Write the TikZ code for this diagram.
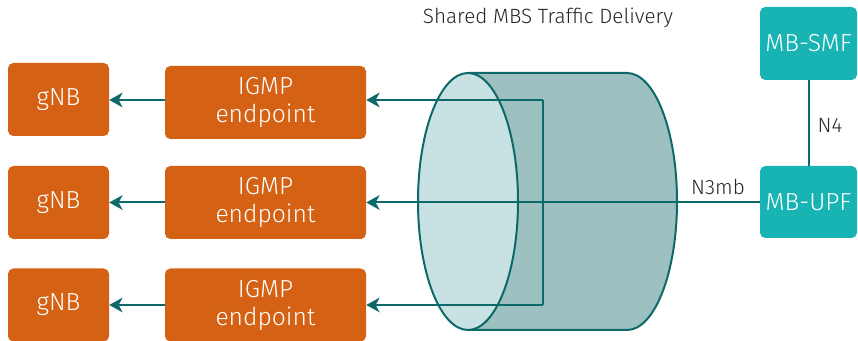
\documentclass[tikz,border=0pt]{standalone}
\usepackage{fontspec}
\setmainfont{Fira Sans}[UprightFont={* Light}]
\usetikzlibrary{arrows.meta}
\definecolor{nodeorange}{RGB}{213,98,20}
\definecolor{nodeteal}{RGB}{24,180,180}
\definecolor{linkteal}{RGB}{14,106,106}
\definecolor{pipebody}{RGB}{157,193,192}
\definecolor{pipefront}{RGB}{200,225,226}
\tikzset{
  box/.style={rounded corners=4pt, inner sep=0pt, align=center, text=white,
    font=\fontsize{18.5}{21}\selectfont, anchor=center},
  ranbox/.style={box, fill=nodeorange},
  corebox/.style={box, fill=nodeteal},
  link/.style={draw=linkteal, line width=1.5pt},
  flow/.style={link, -{Stealth[length=10pt,width=11pt,inset=3pt]}},
  lbl/.style={font=\fontsize{15.5}{18}\selectfont, text=black!85, inner sep=0pt},
}
\begin{document}
\begin{tikzpicture}[x=0.75pt,y=-0.75pt]
\useasboundingbox (0,0) rectangle (858,341);

% title
\node[lbl] (title) at (548,18) {Shared MBS Traffic Delivery};

% radio side
\node[ranbox, minimum width=101*0.75pt, minimum height=73*0.75pt] (gnb1) at (58.5,99.5) {gNB};
\node[ranbox, minimum width=101*0.75pt, minimum height=73*0.75pt] (gnb2) at (58.5,202.5) {gNB};
\node[ranbox, minimum width=101*0.75pt, minimum height=73*0.75pt] (gnb3) at (58.5,305) {gNB};
\node[ranbox, minimum width=201*0.75pt, minimum height=73*0.75pt] (igmp1) at (265.5,102.5) {IGMP\\endpoint};
\node[ranbox, minimum width=201*0.75pt, minimum height=73*0.75pt] (igmp2) at (265.5,202.5) {IGMP\\endpoint};
\node[ranbox, minimum width=201*0.75pt, minimum height=73*0.75pt] (igmp3) at (265.5,305) {IGMP\\endpoint};

% core side
\node[corebox, minimum width=97*0.75pt, minimum height=73*0.75pt] (smf) at (808.5,43.5) {MB-SMF};
\node[corebox, minimum width=97*0.75pt, minimum height=72*0.75pt] (upf) at (808.5,202) {MB-UPF};

% shared delivery pipe (radii given in pt: 50 px by 128.5 px)
\fill[pipebody] (469,73) -- (627,73) arc[start angle=90,end angle=-90,x radius=37.5pt,y radius=96.375pt] -- (469,330) -- cycle;
\draw[link] (469,73) -- (627,73) arc[start angle=90,end angle=-90,x radius=37.5pt,y radius=96.375pt] -- (469,330);
\draw[link, fill=pipefront] (468,201.5) ellipse[x radius=37.5pt,y radius=96.375pt];

% branch points of the pipe
\coordinate (bt) at (543,100);
\coordinate (bb) at (543,305);

% connectors
\draw[flow] (igmp1.west |- 0,100) -- (gnb1.east |- 0,100);
\draw[flow] (igmp2.west) -- (gnb2.east |- igmp2.west);
\draw[flow] (igmp3.west) -- (gnb3.east |- igmp3.west);
\draw[link] (bt) -- (bb);
\draw[flow] (bt) -- (igmp1.east |- bt);
\draw[flow] (bb) -- (igmp3.east |- bb);
\draw[flow] (upf.west |- igmp2.east) -- (igmp2.east);
\draw[link] (smf.south) -- (upf.north);

% interface labels
\node[lbl] (n4) at (830,125) {N4};
\node[lbl] (n3mb) at (718,187) {N3mb};
\end{tikzpicture}
\end{document}
